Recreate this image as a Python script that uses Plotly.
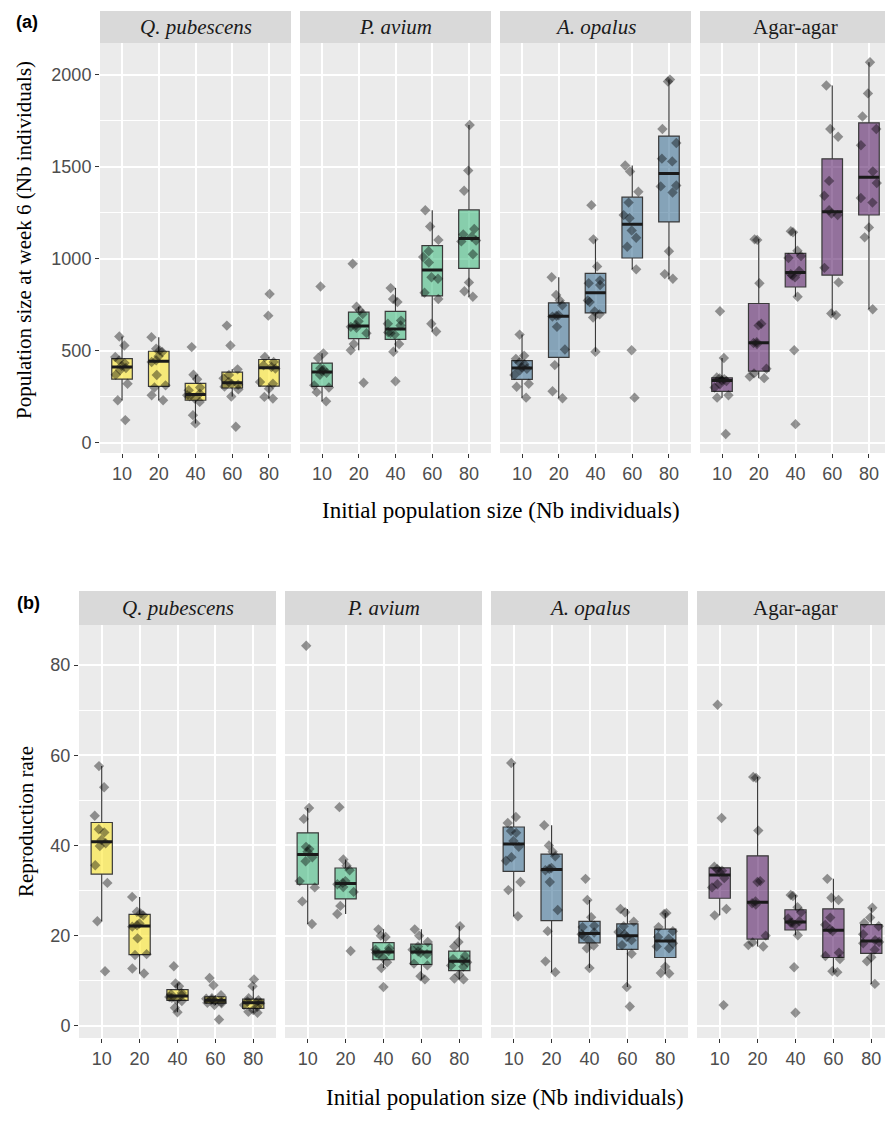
import numpy as np
import plotly.graph_objects as go

categories = ["10", "20", "40", "60", "80"]
facet_names = ["<i>Q. pubescens</i>", "<i>P. avium</i>", "<i>A. opalus</i>", "Agar-agar"]

# ---- Panel (a): population size at week 6 (one list per initial size) ----
pop_qpub = [
    [578, 529, 466, 448, 433, 418, 406, 395, 370, 321, 231, 123],
    [574, 511, 502, 493, 470, 448, 439, 368, 312, 300, 258, 231],
    [520, 370, 345, 300, 285, 267, 258, 252, 240, 222, 150, 105],
    [637, 529, 399, 368, 350, 330, 321, 315, 305, 290, 251, 87],
    [809, 691, 466, 439, 421, 412, 403, 330, 321, 294, 249, 240],
]
pop_pavi = [
    [850, 486, 461, 405, 398, 390, 380, 370, 312, 300, 275, 225],
    [973, 740, 720, 700, 660, 640, 630, 625, 596, 537, 503, 326],
    [841, 782, 765, 664, 647, 638, 600, 596, 588, 537, 495, 334],
    [1264, 1176, 1103, 1041, 1010, 980, 900, 892, 816, 782, 647, 605],
    [1728, 1480, 1370, 1162, 1133, 1120, 1100, 1095, 1025, 872, 824, 794],
]
pop_aopa = [
    [588, 473, 456, 436, 427, 410, 402, 394, 368, 321, 304, 245],
    [900, 804, 774, 748, 693, 690, 686, 630, 507, 422, 280, 242],
    [1292, 1106, 959, 883, 867, 858, 774, 765, 714, 698, 681, 495],
    [1508, 1475, 1365, 1306, 1238, 1221, 1154, 1115, 1066, 943, 503, 245],
    [1975, 1965, 1706, 1630, 1545, 1530, 1399, 1394, 1361, 1041, 917, 892],
]
pop_agar = [
    [715, 461, 355, 350, 345, 340, 336, 318, 300, 258, 245, 47],
    [1106, 1103, 867, 647, 638, 546, 542, 537, 402, 377, 360, 351],
    [1150, 1145, 1044, 1015, 1005, 934, 917, 909, 900, 794, 503, 101],
    [1943, 1706, 1664, 1424, 1343, 1264, 1247, 1238, 951, 872, 703, 694],
    [2069, 1900, 1774, 1706, 1618, 1475, 1412, 1331, 1306, 1171, 1117, 726],
]

# ---- Panel (b): reproduction rate ----
rep_qpub = [
    [57.6, 52.9, 46.6, 43.6, 42.9, 41.2, 40.5, 39.9, 35.6, 31.7, 23.2, 12.1],
    [28.6, 25.3, 24.9, 24.5, 22.7, 22.3, 22.0, 19.4, 15.9, 15.7, 12.7, 11.6],
    [13.2, 9.4, 8.8, 7.3, 7.0, 6.8, 6.4, 6.2, 5.8, 5.5, 4.0, 3.0],
    [10.6, 9.0, 6.8, 6.1, 6.0, 5.8, 5.5, 5.3, 5.1, 5.0, 4.6, 1.4],
    [10.3, 8.8, 6.1, 5.7, 5.4, 5.2, 5.0, 4.6, 4.2, 3.5, 3.1, 2.9],
]
rep_pavi = [
    [84.3, 48.3, 45.9, 39.7, 39.2, 38.6, 37.4, 36.5, 32.1, 30.7, 27.6, 22.6],
    [48.5, 36.9, 35.5, 34.5, 32.1, 31.7, 31.4, 30.8, 29.7, 26.6, 24.8, 16.6],
    [21.4, 20.0, 19.7, 17.2, 16.9, 16.6, 16.2, 15.9, 15.2, 14.1, 12.8, 8.6],
    [21.4, 20.0, 18.6, 17.6, 16.9, 16.5, 16.2, 15.9, 13.8, 13.4, 11.0, 10.3],
    [22.1, 18.6, 17.6, 15.5, 14.8, 14.5, 14.1, 13.4, 13.1, 11.4, 10.5, 10.3],
]
rep_aopa = [
    [58.3, 46.3, 45.0, 43.2, 42.8, 41.0, 39.7, 37.4, 36.6, 31.9, 30.1, 24.3],
    [44.5, 40.0, 38.6, 37.6, 35.0, 34.8, 34.5, 31.9, 25.7, 21.0, 14.3, 11.9],
    [32.6, 27.9, 24.1, 22.2, 21.9, 20.7, 20.3, 20.0, 19.0, 17.8, 17.2, 12.8],
    [25.9, 25.2, 23.1, 22.1, 20.8, 20.3, 19.7, 19.0, 17.9, 16.0, 8.6, 4.3],
    [25.0, 24.8, 21.9, 21.0, 19.7, 19.3, 18.3, 17.6, 17.2, 13.1, 11.7, 11.6],
]
rep_agar = [
    [71.2, 46.1, 35.3, 34.8, 34.4, 34.1, 32.8, 31.4, 30.7, 25.9, 24.5, 4.6],
    [55.2, 55.0, 43.3, 32.1, 31.9, 27.6, 27.2, 26.9, 20.0, 18.5, 17.9, 17.6],
    [29.0, 28.8, 26.3, 25.2, 23.8, 23.2, 22.9, 22.8, 22.4, 20.1, 13.0, 2.9],
    [32.6, 28.4, 27.9, 24.0, 22.4, 21.4, 21.0, 16.2, 15.5, 14.8, 12.1, 11.9],
    [26.2, 24.0, 22.8, 22.1, 20.3, 19.0, 18.6, 18.3, 16.9, 15.2, 14.3, 9.3],
]

fill_colors = ["rgba(253,231,37,0.58)", "rgba(53,183,121,0.55)",
               "rgba(49,104,142,0.55)", "rgba(68,1,84,0.52)"]

W, H = 885, 1138
def px(x):
    return x / W
def py(y):
    return 1 - y / H

# layout geometry (pixels)
top_x = [(100, 291), (300, 491), (500, 691), (700, 885)]
bot_x = [(79, 276), (285, 482), (491, 688), (697, 885)]
top_y = (43, 453)
bot_y = (625, 1038)
top_strip = (11, 43)
bot_strip = (591, 625)

fig = go.Figure()
layout = dict(
    width=W, height=H, margin=dict(l=0, r=0, t=0, b=0),
    paper_bgcolor="white", plot_bgcolor="#EBEBEB",
    showlegend=False, boxmode="overlay", boxgap=0.2,
)

tickfont = dict(family="Liberation Sans, Arial, sans-serif", size=18, color="#4D4D4D")
shapes = []
annotations = []

panels = [
    (top_x, top_y, top_strip, [pop_qpub, pop_pavi, pop_aopa, pop_agar], [-56, 2174], 500, 250),
    (bot_x, bot_y, bot_strip, [rep_qpub, rep_pavi, rep_aopa, rep_agar], [-2.7, 88.9], 20, 10),
]

idx = 0
for (xs_px, ys_px, strip_px, datasets, yr, dt, mdt) in panels:
    for f in range(4):
        idx += 1
        sfx = "" if idx == 1 else str(idx)
        x0, x1 = xs_px[f]
        full_w = xs_px[0][1] - xs_px[0][0]
        xr_end = -0.6 + 5.2 * (x1 - x0) / full_w
        layout["xaxis" + sfx] = dict(
            domain=[px(x0), px(x1)], anchor="y" + sfx, type="category",
            categoryorder="array", categoryarray=categories,
            range=[-0.6, xr_end], showgrid=True, gridcolor="white", gridwidth=1.5,
            ticks="outside", ticklen=4, tickcolor="#333333", tickwidth=1,
            tickfont=tickfont, showline=False, zeroline=False, fixedrange=True,
        )
        layout["yaxis" + sfx] = dict(
            domain=[py(ys_px[1]), py(ys_px[0])], anchor="x" + sfx,
            range=yr, tick0=0, dtick=dt, showgrid=True, gridcolor="white", gridwidth=1.5,
            minor=dict(tick0=0, dtick=mdt, showgrid=True, gridcolor="white", gridwidth=0.8, ticks=""),
            ticks="outside" if f == 0 else "", ticklen=4, tickcolor="#333333",
            showticklabels=(f == 0), tickfont=tickfont,
            zeroline=False, showline=False, fixedrange=True,
        )
        data = datasets[f]
        bx, by = [], []
        for cat, vals in zip(categories, data):
            bx += [cat] * len(vals)
            by += vals
        fig.add_trace(go.Box(
            x=bx, y=by, xaxis="x" + sfx, yaxis="y" + sfx,
            fillcolor=fill_colors[f], line=dict(color="#3A3A3A", width=1.2),
            boxpoints="all", jitter=0.9, pointpos=0, quartilemethod="inclusive",
            whiskerwidth=0,
            marker=dict(symbol="diamond", size=8, color="rgba(0,0,0,0.4)", line=dict(width=0)),
            hoverinfo="skip",
        ))
        med = [float(np.median(v)) for v in data]
        fig.add_trace(go.Box(
            x=categories, q1=med, median=med, q3=med, lowerfence=med, upperfence=med,
            xaxis="x" + sfx, yaxis="y" + sfx,
            fillcolor="rgba(0,0,0,0)", line=dict(color="#1A1A1A", width=3),
            whiskerwidth=0, boxpoints=False, hoverinfo="skip",
        ))
        # strip
        shapes.append(dict(type="rect", xref="paper", yref="paper",
                           x0=px(x0), x1=px(x1), y0=py(strip_px[1]), y1=py(strip_px[0]),
                           fillcolor="#D9D9D9", line=dict(width=0), layer="below"))
        annotations.append(dict(text=facet_names[f], xref="paper", yref="paper",
                                x=px((x0 + x0 + full_w) / 2), y=py((strip_px[0] + strip_px[1]) / 2),
                                showarrow=False, xanchor="center", yanchor="middle",
                                font=dict(family="Liberation Serif, Times New Roman, serif",
                                          size=21, color="#1A1A1A")))

serif = "Liberation Serif, Times New Roman, serif"
annotations += [
    dict(text="<b>(a)</b>", x=px(27), y=py(22), xref="paper", yref="paper", showarrow=False,
         xanchor="center", yanchor="middle",
         font=dict(family="Liberation Sans, Arial, sans-serif", size=18, color="black")),
    dict(text="<b>(b)</b>", x=px(28), y=py(603), xref="paper", yref="paper", showarrow=False,
         xanchor="center", yanchor="middle",
         font=dict(family="Liberation Sans, Arial, sans-serif", size=18, color="black")),
    dict(text="Population size at week 6 (Nb individuals)", x=px(24), y=py(240),
         xref="paper", yref="paper", showarrow=False, textangle=-90,
         xanchor="center", yanchor="middle", font=dict(family=serif, size=21, color="black")),
    dict(text="Reproduction rate", x=px(26), y=py(822),
         xref="paper", yref="paper", showarrow=False, textangle=-90,
         xanchor="center", yanchor="middle", font=dict(family=serif, size=21, color="black")),
    dict(text="Initial population size (Nb individuals)", x=px(501), y=py(510),
         xref="paper", yref="paper", showarrow=False,
         xanchor="center", yanchor="middle", font=dict(family=serif, size=23, color="black")),
    dict(text="Initial population size (Nb individuals)", x=px(505), y=py(1097),
         xref="paper", yref="paper", showarrow=False,
         xanchor="center", yanchor="middle", font=dict(family=serif, size=23, color="black")),
]

layout["shapes"] = shapes
layout["annotations"] = annotations
fig.update_layout(**layout)
fig.write_html(
    "out.html",
    config={"displayModeBar": False},
    post_script="document.body.style.margin='0';document.body.style.overflow='hidden';",
)
